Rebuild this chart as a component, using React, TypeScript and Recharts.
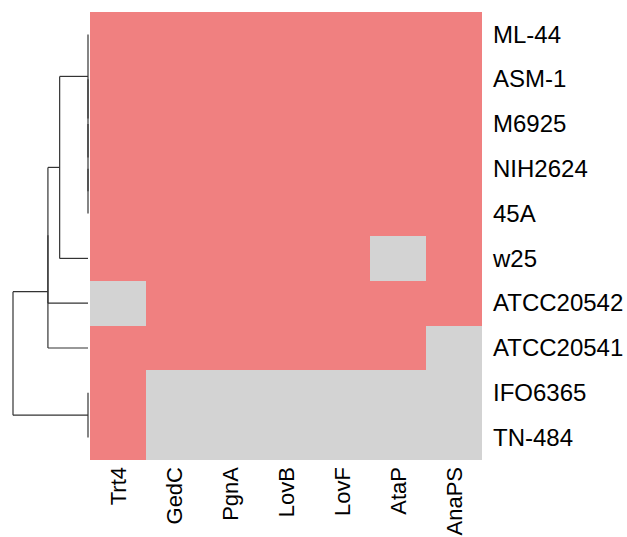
import React from "react";
import { ScatterChart, XAxis, YAxis, ReferenceArea, ReferenceLine, Scatter } from "recharts";

const genes = ["Trt4", "GedC", "PgnA", "LovB", "LovF", "AtaP", "AnaPS"];
const strains = ["ML-44", "ASM-1", "M6925", "NIH2624", "45A", "w25", "ATCC20542", "ATCC20541", "IFO6365", "TN-484"];
const presence = [
  [1, 1, 1, 1, 1, 1, 1],
  [1, 1, 1, 1, 1, 1, 1],
  [1, 1, 1, 1, 1, 1, 1],
  [1, 1, 1, 1, 1, 1, 1],
  [1, 1, 1, 1, 1, 1, 1],
  [1, 1, 1, 1, 1, 0, 1],
  [0, 1, 1, 1, 1, 1, 1],
  [1, 1, 1, 1, 1, 1, 0],
  [1, 0, 0, 0, 0, 0, 0],
  [1, 0, 0, 0, 0, 0, 0],
];
// hclust-style merges: negative = leaf (1-based row), positive = earlier merge (1-based)
const merges: [number, number, number][] = [
  [-4, -5, 0],
  [-3, 1, 0],
  [-2, 2, 0],
  [-1, 3, 0],
  [-9, -10, 0],
  [-6, 4, 1],
  [-7, 6, 1.414],
  [-8, 7, 1.414],
  [5, 8, 2.646],
];

const PRESENT = "#F08080";
const ABSENT = "#D3D3D3";
const FONT = "'Liberation Sans', Arial, Helvetica, sans-serif";

type Seg = { x1: number; y1: number; x2: number; y2: number };
function buildSegments(): Seg[] {
  const pos: number[] = [];
  const hgt: number[] = [];
  const segs: Seg[] = [];
  const info = (id: number) => (id < 0 ? { y: -id - 0.5, h: 0 } : { y: pos[id - 1], h: hgt[id - 1] });
  merges.forEach(([a, b, h]) => {
    const A = info(a);
    const B = info(b);
    segs.push({ x1: A.h, y1: A.y, x2: h, y2: A.y });
    segs.push({ x1: B.h, y1: B.y, x2: h, y2: B.y });
    segs.push({ x1: h, y1: A.y, x2: h, y2: B.y });
    pos.push((A.y + B.y) / 2);
    hgt.push(h);
  });
  return segs;
}
const segments = buildSegments();
const maxH = Math.max(...merges.map((m) => m[2]));

const cells = presence.flatMap((row, r) => row.map((v, c) => ({ r, c, v, cx: c + 0.5, cy: r + 0.5 })));
const leaves = strains.map((s, i) => ({ h: 0, y: i + 0.5, name: s }));
const colTicks = genes.map((_, i) => i + 0.5);
const rowTicks = strains.map((_, i) => i + 0.5);

const XTick = (props: any) => {
  const { x, y, payload } = props;
  const label = genes[Math.floor(payload.value)];
  return (
    <text x={x} y={y} transform={`rotate(-90, ${x}, ${y})`} textAnchor="end" dy="0.36em" fontSize={22} fontFamily={FONT} fill="#000">
      {label}
    </text>
  );
};
const YTick = (props: any) => {
  const { x, y, payload } = props;
  const label = strains[Math.floor(payload.value)];
  return (
    <text x={x} y={y} textAnchor="start" dy="0.34em" fontSize={24} fontFamily={FONT} fill="#000">
      {label}
    </text>
  );
};

const Nothing = () => <g />;

const CellShape = (p: any) => {
  const x = Math.round(p.x);
  const y = Math.round(p.y);
  const w = Math.round(p.x + p.width) - x;
  const h = Math.round(p.y + p.height) - y;
  return <rect x={x} y={y} width={w} height={h} fill={p.fill} stroke="none" shapeRendering="crispEdges" />;
};

export default function App() {
  return (
    <div style={{ position: "absolute", left: 0, top: 0, width: 627, height: 537, background: "#fff" }}>
      <div style={{ position: "absolute", left: 0, top: 0 }}>
        <ScatterChart width={90} height={537} margin={{ top: 12, bottom: 77, left: 13, right: 2 }}>
          <XAxis type="number" dataKey="h" domain={[0, maxH]} reversed hide />
          <YAxis type="number" dataKey="y" domain={[0, 10]} reversed hide />
          <Scatter data={leaves} isAnimationActive={false} shape={<Nothing />} />
          {segments.map((s, i) => (
            <ReferenceLine
              key={i}
              segment={[{ x: s.x1, y: s.y1 }, { x: s.x2, y: s.y2 }]}
              stroke="#333"
              strokeWidth={1.2}
              ifOverflow="visible"
            />
          ))}
        </ScatterChart>
      </div>
      <div style={{ position: "absolute", left: 90, top: 0 }}>
        <ScatterChart width={537} height={537} margin={{ top: 12, bottom: 0, left: 0, right: 0 }}>
          <XAxis
            type="number"
            dataKey="cx"
            domain={[0, 7]}
            ticks={colTicks}
            interval={0}
            height={77}
            tickLine={false}
            axisLine={false}
            tickSize={0}
            tickMargin={7}
            tick={<XTick />}
          />
          <YAxis
            type="number"
            dataKey="cy"
            domain={[0, 10]}
            reversed
            orientation="right"
            ticks={rowTicks}
            interval={0}
            width={145}
            tickLine={false}
            axisLine={false}
            tickSize={0}
            tickMargin={11}
            tick={<YTick />}
          />
          {cells.map((cell) => (
            <ReferenceArea
              key={`${cell.r}-${cell.c}`}
              x1={cell.c}
              x2={cell.c + 1}
              y1={cell.r}
              y2={cell.r + 1}
              fill={cell.v ? PRESENT : ABSENT}
              fillOpacity={1}
              ifOverflow="visible"
              shape={<CellShape />}
            />
          ))}
          <Scatter data={cells} isAnimationActive={false} shape={<Nothing />} />
        </ScatterChart>
      </div>
    </div>
  );
}
